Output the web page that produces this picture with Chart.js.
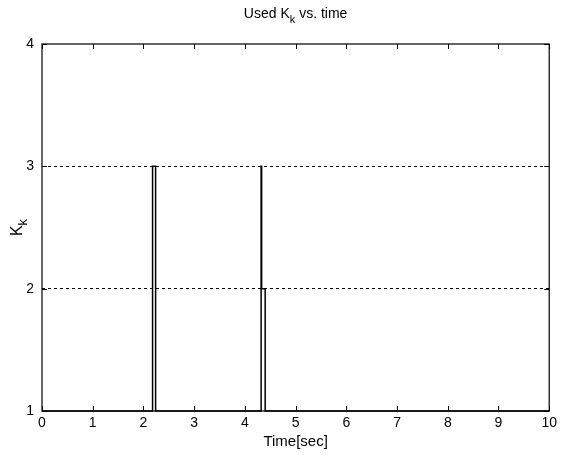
<!DOCTYPE html>
<html>
<head>
<meta charset="utf-8">
<script src="https://cdn.jsdelivr.net/npm/chart.js@4"></script>
<style>
  body { margin: 0; background: #fff; }
  #wrap { width: 561px; height: 455px; }
</style>
</head>
<body>
<div id="wrap"><canvas id="kkChart" width="561" height="455"></canvas></div>
<script>
// switching instants [sec] and the K_k value held from each instant on
const times = [0, 2.18, 2.24, 4.32, 4.33, 4.40, 10];
const kValues = [1, 3, 1, 3, 2, 1, 1];
const xTicks = [0, 1, 2, 3, 4, 5, 6, 7, 8, 9, 10];
const yTicks = [1, 2, 3, 4];

const FONT = '"Liberation Sans", Arial, sans-serif';

// text with a subscript part, e.g. K + k
function drawSub(ctx, parts, x, y, size, align) {
    let w = 0;
    parts.forEach(p => {
        ctx.font = (p.sub ? size - 3 : size) + 'px ' + FONT;
        w += ctx.measureText(p.t).width;
    });
    let cx = align === 'center' ? x - w / 2 : x;
    parts.forEach(p => {
        ctx.font = (p.sub ? size - 3 : size) + 'px ' + FONT;
        ctx.fillText(p.t, cx, p.sub ? y + 5 : y);
        cx += ctx.measureText(p.t).width;
    });
}

const framePlugin = {
    id: 'frame',
    afterDraw(chart) {
        const ctx = chart.ctx;
        const a = chart.chartArea;
        const xs = chart.scales.x, ys = chart.scales.y;
        ctx.save();
        ctx.strokeStyle = '#000';
        ctx.lineWidth = 1.2;
        ctx.strokeRect(a.left, a.top, a.right - a.left, a.bottom - a.top);

        // inward tick marks on all four sides
        ctx.lineWidth = 1;
        ctx.beginPath();
        xTicks.forEach(v => {
            const px = Math.round(xs.getPixelForValue(v)) + 0.5;
            ctx.moveTo(px, a.bottom); ctx.lineTo(px, a.bottom - 5);
            ctx.moveTo(px, a.top); ctx.lineTo(px, a.top + 5);
        });
        yTicks.forEach(v => {
            const py = Math.round(ys.getPixelForValue(v)) + 0.5;
            ctx.moveTo(a.left, py); ctx.lineTo(a.left + 5, py);
            ctx.moveTo(a.right, py); ctx.lineTo(a.right - 5, py);
        });
        ctx.stroke();

        ctx.fillStyle = '#000';
        ctx.textBaseline = 'alphabetic';
        drawSub(ctx, [{t: 'Used K'}, {t: 'k', sub: true}, {t: ' vs. time'}], (a.left + a.right) / 2, 18, 14, 'center');

        ctx.textAlign = 'left';
        ctx.font = '15px ' + FONT;
        const tw = ctx.measureText('Time[sec]').width;
        ctx.fillText('Time[sec]', (a.left + a.right) / 2 - tw / 2, 446);

        ctx.translate(22, (a.top + a.bottom) / 2);
        ctx.rotate(-Math.PI / 2);
        drawSub(ctx, [{t: 'K', sub: false}, {t: 'k', sub: true}], 0, 0, 16, 'center');
        ctx.restore();
    }
};

new Chart(document.getElementById('kkChart'), {
    type: 'line',
    data: {
        datasets: [{
            data: times.map((t, i) => ({ x: t, y: kValues[i] })),
            borderColor: '#000',
            borderWidth: 1.5,
            pointRadius: 0,
            stepped: true,
            fill: false,
            clip: false
        }]
    },
    options: {
        responsive: false,
        animation: false,
        layout: { padding: { left: 0, top: 44, right: 10, bottom: 0 } },
        plugins: { legend: { display: false }, title: { display: false }, tooltip: { enabled: false } },
        scales: {
            x: {
                type: 'linear',
                min: 0, max: 10,
                afterBuildTicks: s => { s.ticks = xTicks.map(v => ({ value: v })); },
                afterFit: s => { s.height = 44; },
                grid: { display: false, drawTicks: false },
                border: { display: false },
                ticks: { color: '#000', padding: 4, font: { family: FONT, size: 14 } }
            },
            y: {
                min: 1, max: 4,
                afterBuildTicks: s => { s.ticks = yTicks.map(v => ({ value: v })); },
                afterFit: s => { s.width = 42; },
                grid: {
                    drawTicks: false,
                    lineWidth: 1,
                    color: c => (c.tick && (c.tick.value === 2 || c.tick.value === 3)) ? '#000' : 'rgba(0,0,0,0)'
                },
                border: { display: false, dash: [3, 3] },
                ticks: { color: '#000', padding: 8, font: { family: FONT, size: 14 } }
            }
        }
    },
    plugins: [framePlugin]
});
</script>
</body>
</html>
